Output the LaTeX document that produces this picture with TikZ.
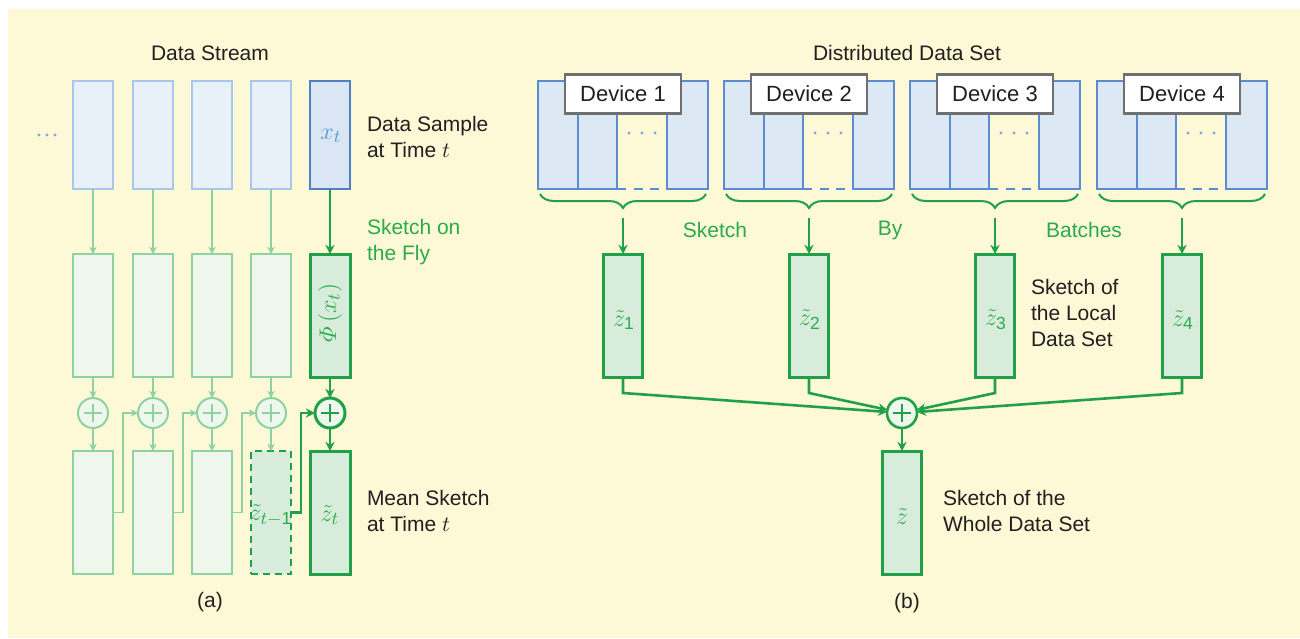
\documentclass[tikz,border=0pt]{standalone}
\usepackage{amsmath}
\usepackage[no-math]{fontspec}
\setmainfont{Liberation Sans}
\usetikzlibrary{arrows.meta,decorations.pathreplacing}

\definecolor{bgyellow}{HTML}{FDF8D5}
\definecolor{inkblack}{HTML}{231F20}
\definecolor{blueL}{HTML}{A9C7EA}
\definecolor{blueLfill}{HTML}{E8F0F8}
\definecolor{blueD}{HTML}{4F80C6}
\definecolor{blueDfill}{HTML}{DAE6F4}
\definecolor{blueG}{HTML}{5B8BD0}
\definecolor{blueGfill}{HTML}{DDE8F5}
\definecolor{dotblue}{HTML}{7AA6DC}
\definecolor{xblue}{HTML}{4F98DA}
\definecolor{greenL}{HTML}{8ED2A4}
\definecolor{greenLfill}{HTML}{EFF6EC}
\definecolor{greenD}{HTML}{20A049}
\definecolor{greenDfill}{HTML}{D8ECDB}
\definecolor{greenT}{HTML}{2CAB4C}
\definecolor{devborder}{HTML}{707070}

\tikzset{
  every node/.style={inner sep=0pt, outer sep=0pt},
  lbl/.style={text=inkblack, align=left, anchor=west},
  glbl/.style={text=greenT, align=left, anchor=west},
  title/.style={text=inkblack},
  mlbl/.style={font=\fontsize{12.5}{14}\selectfont},
  cell/.style={minimum width=20pt},
  topbox/.style={cell, minimum height=54pt},
  midbox/.style={cell, minimum height=61.5pt},
  fblue/.style={draw=blueL, fill=blueLfill, line width=1pt},
  sblue/.style={draw=blueD, fill=blueDfill, line width=1.4pt},
  fgreen/.style={draw=greenL, fill=greenLfill, line width=1pt},
  sgreen/.style={draw=greenD, fill=greenDfill, line width=1.5pt},
  dgreen/.style={draw=greenD, fill=greenDfill, line width=1.2pt, dash pattern=on 3.5pt off 2.5pt},
  devrect/.style={draw=blueG, fill=blueGfill, line width=1pt, minimum height=54pt},
  devlabel/.style={draw=devborder, fill=white, line width=1.4pt, minimum width=58pt, minimum height=19.5pt, text=inkblack, font=\fontsize{11}{13}\selectfont},
  plusnode/.style={circle, minimum size=15pt,
    path picture={
      \draw[#1] ([xshift=-4.6pt]path picture bounding box.center) -- ([xshift=4.6pt]path picture bounding box.center);
      \draw[#1] ([yshift=-4.6pt]path picture bounding box.center) -- ([yshift=4.6pt]path picture bounding box.center);
    }},
  fsum/.style={plusnode={draw=greenL, line width=0.8pt}, draw=greenL, fill=greenLfill, line width=1pt},
  ssum/.style={plusnode={draw=greenD, line width=1pt}, draw=greenD, fill=greenLfill, line width=1.5pt},
  farr/.style={draw=greenL, line width=0.9pt, -{Stealth[length=3.6pt,width=3.6pt]}},
  sarr/.style={draw=greenD, line width=1.3pt, -{Stealth[length=4.6pt,width=4.6pt]}},
  bracestyle/.style={draw=greenD, line width=1pt, decorate, decoration={brace, mirror, amplitude=7pt}},
}

\begin{document}
\begin{tikzpicture}[x=0.5pt, y=-0.5pt, font=\fontsize{10.5}{13}\selectfont]
\useasboundingbox (0,0) rectangle (1300,638);
\fill[white] (0,0) rectangle (1300,638);
\fill[bgyellow] (8,9) rectangle (1300,638);

% ---------- (a) data stream ----------
\node[title] (titleA) at (210,53) {Data Stream};
\fill[dotblue] (39,135) circle (0.8pt) (47,135) circle (0.8pt) (55,135) circle (0.8pt);

\foreach \i/\x in {1/93,2/153,3/212,4/271} {
  \node[topbox, fblue] (t\i) at (\x,135) {};
  \node[midbox, fgreen] (m\i) at (\x,315.5) {};
  \node[fsum] (c\i) at (\x,413) {};
  \draw[farr] (t\i) -- (m\i);
  \draw[farr] (m\i) -- (c\i);
}
\foreach \i/\x in {1/93,2/153,3/212} {
  \node[midbox, fgreen] (b\i) at (\x,512.5) {};
  \draw[farr] (c\i) -- (b\i);
}
\node[midbox, dgreen] (b4) at (271,512.5) {};
\draw[farr] (c4) -- (b4);

\node[topbox, sblue] (t5) at (330,135) {};
\node[midbox, sgreen] (m5) at (330,315.5) {};
\node[ssum] (c5) at (330,413) {};
\node[midbox, sgreen] (b5) at (330,512.5) {};
\draw[sarr] (t5) -- (m5);
\draw[sarr] (m5) -- (c5);
\draw[sarr] (c5) -- (b5);

% running sum passed to the next step
\draw[farr] (b1.east) -- ++(10,0) |- (c2);
\draw[farr] (b2.east) -- ++(10,0) |- (c3);
\draw[farr] (b3.east) -- ++(10,0) |- (c4);
\draw[sarr] (b4.east) -- ++(10,0) |- (c5);

\node[mlbl, text=xblue] (xt) at (331,136) {$x_t$};
\node[mlbl, text=greenT, rotate=90] (phi) at (330,313) {$\varPhi\,(x_t)$};
\node[mlbl, text=greenT] (zt) at (330,515) {$\tilde{z}_t$};
\node[mlbl, text=greenT] (ztm) at (271,515) {$\tilde{z}_{t-\text{1}}$};

\node[lbl] (lsample) at (367,137) {Data Sample\\at Time $t$};
\node[glbl] (lfly) at (367,242) {Sketch on\\the Fly};
\node[lbl] (lmean) at (367,511) {Mean Sketch\\at Time $t$};
\node[title] (capA) at (210,602) {(a)};

% ---------- (b) distributed data set ----------
\node[title] (titleB) at (907,53) {Distributed Data Set};

\foreach \i/\g in {1/538,2/724,3/910,4/1097} {
  \node[devrect, minimum width=20pt] (r\i a) at (\g+20,135) {};
  \node[devrect, minimum width=19.5pt] (r\i b) at (\g+59.5,135) {};
  \node[devrect, minimum width=20.5pt] (r\i d) at (\g+149.5,135) {};
  \draw[draw=blueG, line width=1pt, dash pattern=on 4.5pt off 3.75pt] (r\i b.south east) -- (r\i d.south west);
  \fill[dotblue] (\g+91,133) circle (0.8pt) (\g+104,133) circle (0.8pt) (\g+117,133) circle (0.8pt);
  \node[devlabel] (dev\i) at (\g+85,94) {Device \i};
  \draw[bracestyle] (\g+2,194) -- (\g+168,194);
  \coordinate (br\i) at (\g+85,218);
  \node[midbox, sgreen, minimum width=19.5pt] (z\i) at (\g+85,315.5) {};
  \node[mlbl, text=greenT] (zl\i) at (\g+86,320) {$\tilde{z}_{\text{\i}}$};
  \draw[sarr] (br\i) -- (z\i);
}

\node[glbl, anchor=center] (lsk) at (715,230) {Sketch};
\node[glbl, anchor=center] (lby) at (890,230) {By};
\node[glbl, anchor=center] (lbat) at (1084,230) {Batches};

\node[ssum, line width=1.3pt] (S) at (902,413) {};
\node[midbox, sgreen, minimum width=19.5pt] (zf) at (902,512.5) {};
\node[mlbl, text=greenT] (zfl) at (902,517) {$\tilde{z}$};

\foreach \i in {1,2,3,4} {
  \draw[sarr] (z\i.south) -- ++(0,16) -- (S);
}
\draw[sarr] (S) -- (zf);

\node[lbl] (llocal) at (1031,313) {Sketch of\\the Local\\Data Set};
\node[lbl] (lwhole) at (943,511) {Sketch of the\\Whole Data Set};
\node[title] (capB) at (907,603) {(b)};
\end{tikzpicture}
\end{document}
